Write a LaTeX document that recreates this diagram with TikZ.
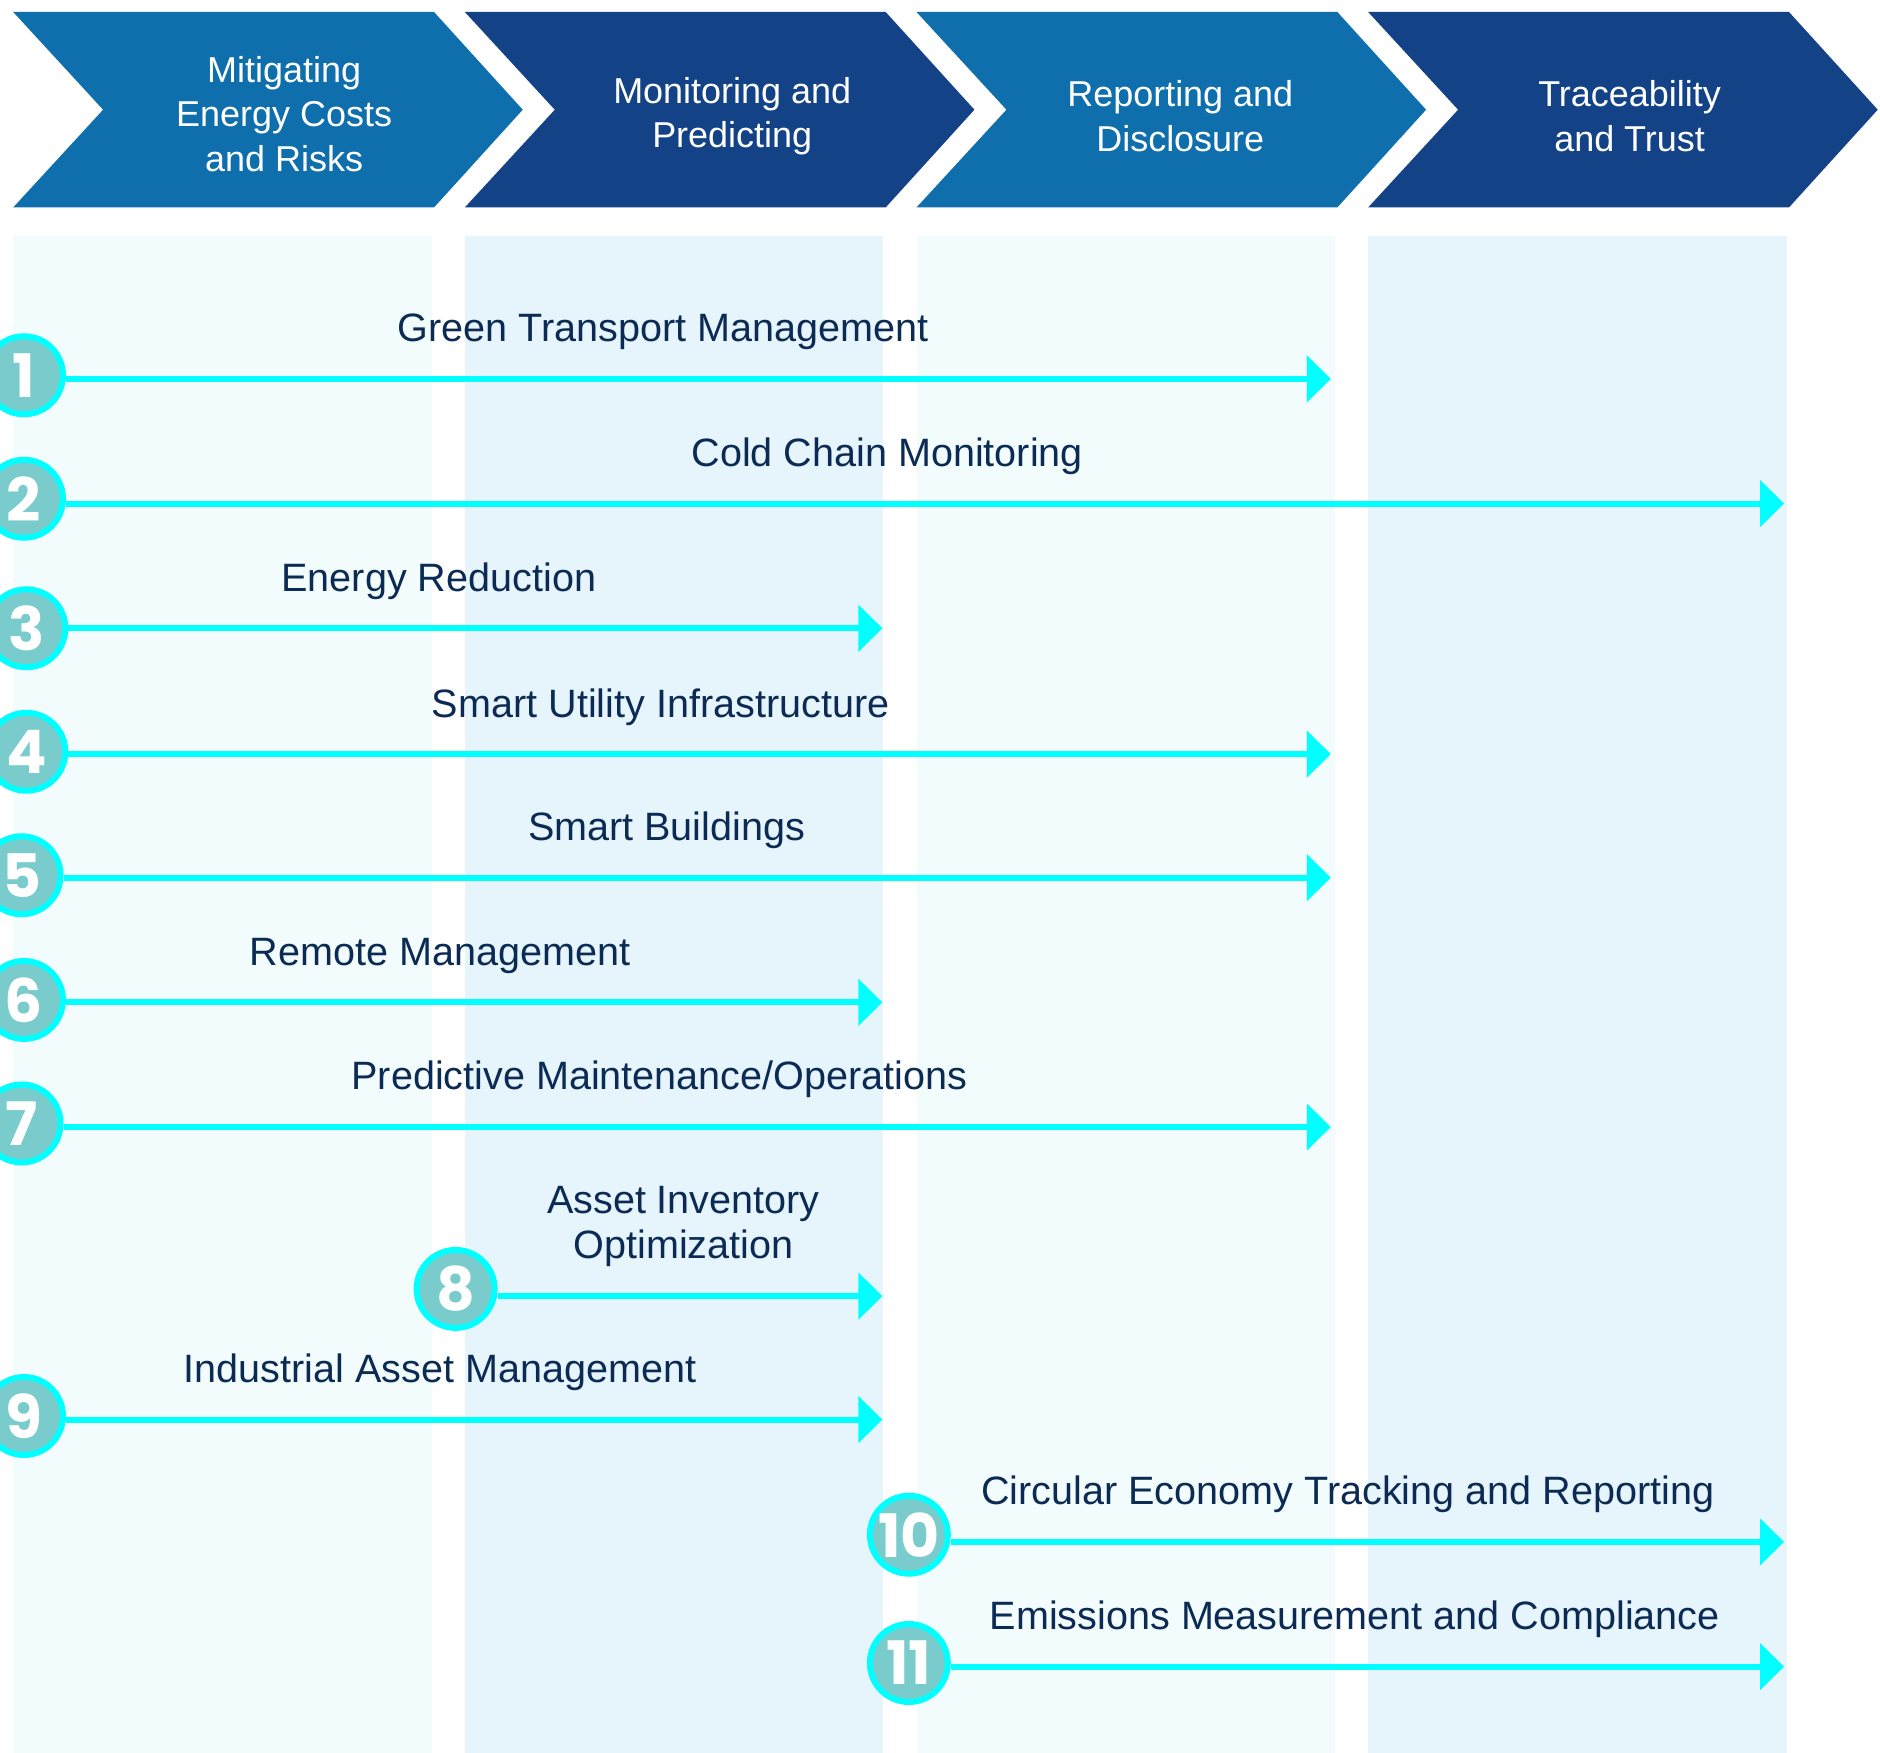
\documentclass[tikz,border=0pt]{standalone}
\usepackage{fontspec}
\setmainfont{Liberation Sans}
\newfontfamily\numfont{Poppins}
\usetikzlibrary{arrows.meta}

\definecolor{midblue}{HTML}{0F6FAD}
\definecolor{darkblue}{HTML}{134287}
\definecolor{paleteal}{HTML}{F2FCFC}
\definecolor{paleblue}{HTML}{E6F4FB}
\definecolor{labelblue}{HTML}{0B2B55}
\definecolor{tealfill}{HTML}{7ACCCC}
\definecolor{cyanline}{HTML}{00FFFF}

\tikzset{
  numcircle/.style={circle,fill=tealfill,draw=cyanline,line width=2.5pt,
    minimum size=32.5pt,inner sep=0pt,text=white,
    font=\numfont\bfseries\fontsize{25}{25}\selectfont},
  flow/.style={cyanline,line width=2.5pt,-{Triangle[length=10pt,width=19pt]}},
  itemlabel/.style={text=labelblue,font=\fontsize{16.5}{19}\selectfont,align=center,anchor=base},
  headlabel/.style={text=white,font=\fontsize{15}{18.5}\selectfont,align=center}
}

\begin{document}
\begin{tikzpicture}[x=0.5pt,y=-0.5pt]
  \useasboundingbox (0,0) rectangle (1568,1462);
  \clip (0,0) rectangle (1568,1462);

  % columns and chevrons
  \foreach \i/\fc/\cc/\hx/\hy/\head in {0/midblue/paleteal/226/95/{Mitigating\\Energy Costs\\and Risks},
                                1/darkblue/paleblue/223/97/{Monitoring and\\Predicting},
                                2/midblue/paleteal/220/97/{Reporting and\\Disclosure},
                                3/darkblue/paleblue/218/97/{Traceability\\and Trust}}{
    \pgfmathsetmacro\xo{11+\i*376.7}
    \fill[\cc] (\xo,197) rectangle ++(349,1265);
    \fill[\fc] (\xo,10) -- ++(351,0) -- ++(74,81.5) -- ++(-74,81.5)
      -- ++(-351,0) -- ++(75,-81.5) -- cycle;
    \node[headlabel] (h\i) at (\xo+\hx,\hy) {\head};
  }

  % rows: number / circle x / circle y / arrow y / tip x / label x / label
  \foreach \n/\cx/\cy/\ay/\tx/\lx/\txt in {
      1/20/313/316/1110/553/{Green Transport Management},
      2/20/416/420/1488/740/{Cold Chain Monitoring},
      3/22/524/524/736/366/{Energy Reduction},
      4/22/627/629/1110/551/{Smart Utility Infrastructure},
      5/18/730/732/1110/556/{Smart Buildings},
      6/20/834/836/736/367/{Remote Management},
      7/18/937/940/1110/550/{Predictive Maintenance/Operations},
      8/380/1075/1081/736/570/{Asset Inventory\\Optimization},
      9/20/1181/1184/736/367/{Industrial Asset Management},
      10/758/1280/1286/1488/1124/{Circular Economy Tracking and Reporting},
      11/758/1387/1390/1488/1130/{Emissions Measurement and Compliance}}{
    \coordinate (e\n) at (\tx,\ay);
    \node[numcircle] (n\n) at (\cx,\cy) {\n};
    \draw[flow] (n\n.east |- e\n) -- (e\n);
    \node[itemlabel] (l\n) at (\lx,\ay-31) {\txt};
  }
\end{tikzpicture}
\end{document}
